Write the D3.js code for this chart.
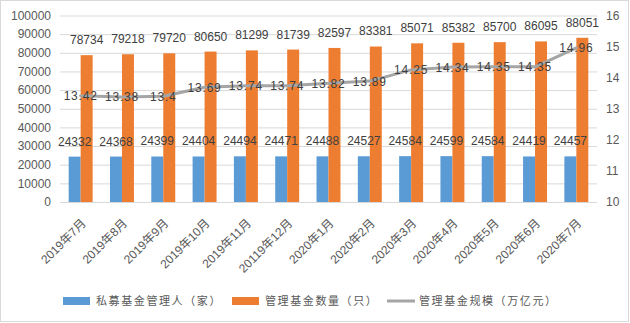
<!DOCTYPE html>
<html>
<head>
<meta charset="utf-8">
<script src="https://cdn.jsdelivr.net/npm/d3@7"></script>
<style>
  body { margin: 0; background: #fff; }
  svg { display: block; font-family: "Liberation Sans", "Noto Sans CJK SC", sans-serif; }
</style>
</head>
<body>
<svg width="630" height="323"></svg>
<script>
// chart data
var months = ["2019年7月", "2019年8月", "2019年9月", "2019年10月", "2019年11月", "20119年12月",
              "2020年1月", "2020年2月", "2020年3月", "2020年4月", "2020年5月", "2020年6月", "2020年7月"];
var managers = [24332, 24368, 24399, 24404, 24494, 24471, 24488, 24527, 24584, 24599, 24584, 24419, 24457];
var funds = [78734, 79218, 79720, 80650, 81299, 81739, 82597, 83381, 85071, 85382, 85700, 86095, 88051];
var fundScale = ["13.42", "13.38", "13.4", "13.69", "13.74", "13.74", "13.82", "13.89", "14.25", "14.34", "14.35", "14.35", "14.96"];
var leftTicks = [0, 10000, 20000, 30000, 40000, 50000, 60000, 70000, 80000, 90000, 100000];
var rightTicks = [10, 11, 12, 13, 14, 15, 16];
var legendNames = ["私募基金管理人（家）", "管理基金数量（只）", "管理基金规模（万亿元）"];

var plotLeft = 60, plotRight = 597, plotTop = 15.5, plotBottom = 202;

var svg = d3.select("svg");

svg.append("rect")
   .attr("x", 0.5).attr("y", 0.5)
   .attr("width", 628).attr("height", 321)
   .attr("fill", "#fff")
   .attr("stroke", "#d9d9d9");

var x = d3.scaleBand()
          .domain(months)
          .range([plotLeft, plotRight]);
var yLeft = d3.scaleLinear().domain([0, 100000]).range([plotBottom, plotTop]);
var yRight = d3.scaleLinear().domain([10, 16]).range([plotBottom, plotTop]);

var barW = x.bandwidth() * 0.29;
var cx = function(m) { return x(m) + x.bandwidth() / 2; };

// gridlines
svg.append("g")
   .attr("transform", "translate(" + plotLeft + ",0)")
   .call(d3.axisLeft(yLeft).tickValues(leftTicks).tickSize(-(plotRight - plotLeft)).tickFormat(""))
   .call(g => g.select(".domain").remove())
   .call(g => g.selectAll("line").attr("stroke", "#d9d9d9"));

// left axis labels
svg.append("g")
   .attr("transform", "translate(" + plotLeft + ",0)")
   .call(d3.axisLeft(yLeft).tickValues(leftTicks).tickSize(0).tickPadding(9).tickFormat(d3.format("d")))
   .call(g => g.select(".domain").remove())
   .call(g => g.selectAll("text").attr("fill", "#595959").style("font-size", "12px"));

// right axis labels
svg.append("g")
   .attr("transform", "translate(" + plotRight + ",0)")
   .call(d3.axisRight(yRight).tickValues(rightTicks).tickSize(0).tickPadding(9).tickFormat(d3.format("d")))
   .call(g => g.select(".domain").remove())
   .call(g => g.selectAll("text").attr("fill", "#595959").style("font-size", "12px"));

// x labels
svg.append("g")
   .selectAll("text")
   .data(months)
   .enter()
   .append("text")
   .attr("transform", d => "translate(" + (cx(d) + 6) + ",224) rotate(-45)")
   .attr("text-anchor", "end")
   .attr("fill", "#595959")
   .style("font-size", "12px")
   .text(d => d);

// bars
svg.append("g")
   .selectAll("rect")
   .data(managers)
   .enter()
   .append("rect")
   .attr("x", (d, i) => cx(months[i]) - barW)
   .attr("y", d => yLeft(d))
   .attr("width", barW)
   .attr("height", d => plotBottom - yLeft(d))
   .attr("fill", "#5B9BD5");

svg.append("g")
   .selectAll("rect")
   .data(funds)
   .enter()
   .append("rect")
   .attr("x", (d, i) => cx(months[i]))
   .attr("y", d => yLeft(d))
   .attr("width", barW)
   .attr("height", d => plotBottom - yLeft(d))
   .attr("fill", "#ED7D31");

// line
var line = d3.line()
             .x((d, i) => cx(months[i]))
             .y(d => yRight(+d));
svg.append("path")
   .datum(fundScale)
   .attr("d", line)
   .attr("fill", "none")
   .attr("stroke", "#A5A5A5")
   .attr("stroke-width", 3)
   .attr("stroke-linejoin", "round")
   .attr("stroke-linecap", "round");

// data labels
var labelStyle = function(sel) {
    sel.attr("text-anchor", "middle")
       .attr("fill", "#404040")
       .style("font-size", "12px");
};
svg.append("g").selectAll("text")
   .data(managers).enter().append("text")
   .attr("x", (d, i) => cx(months[i]) - barW / 2)
   .attr("y", d => yLeft(d) - 11)
   .call(labelStyle)
   .text(d => d);
svg.append("g").selectAll("text")
   .data(funds).enter().append("text")
   .attr("x", (d, i) => cx(months[i]) + barW / 2)
   .attr("y", d => yLeft(d) - 11)
   .call(labelStyle)
   .text(d => d);
svg.append("g").selectAll("text")
   .data(fundScale).enter().append("text")
   .attr("x", (d, i) => cx(months[i]))
   .attr("y", d => yRight(+d) + 4.5)
   .call(labelStyle)
   .style("letter-spacing", "0.8px")
   .text(d => d);

// legend
var legend = svg.append("g").attr("transform", "translate(0,301)");
var legendItems = [
    {x: 63, name: legendNames[0], color: "#5B9BD5", type: "rect"},
    {x: 232, name: legendNames[1], color: "#ED7D31", type: "rect"},
    {x: 387, name: legendNames[2], color: "#A5A5A5", type: "line"}
];
legendItems.forEach(function(it) {
    if (it.type == "rect") {
        legend.append("rect").attr("x", it.x).attr("y", -4).attr("width", 27).attr("height", 8).attr("fill", it.color);
    } else {
        legend.append("line").attr("x1", it.x).attr("x2", it.x + 28).attr("y1", 0).attr("y2", 0)
              .attr("stroke", it.color).attr("stroke-width", 3);
    }
    legend.append("text")
          .attr("x", it.x + (it.type == "rect" ? 33 : 32))
          .attr("y", 4)
          .attr("fill", "#595959")
          .style("font-size", "11px")
          .style("letter-spacing", "1.6px")
          .text(it.name);
});
</script>
</body>
</html>
